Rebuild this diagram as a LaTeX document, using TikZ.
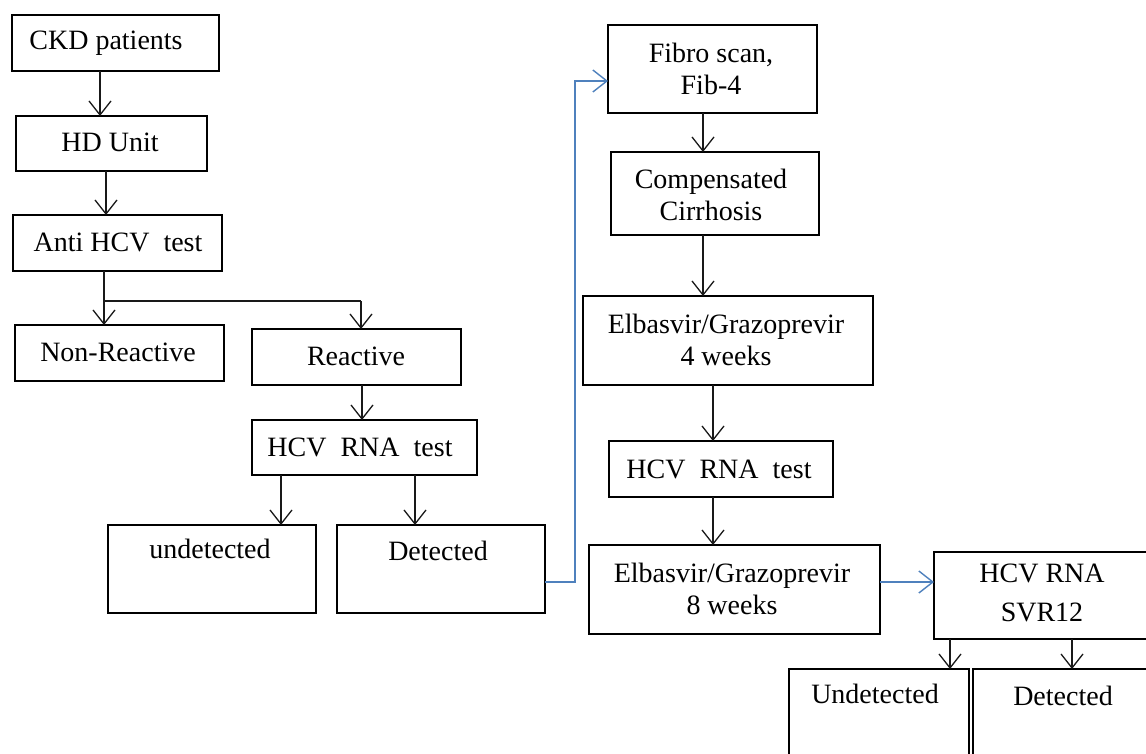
\documentclass[tikz,border=0pt]{standalone}
\usepackage{fontspec}
\setmainfont{Liberation Serif}
\usetikzlibrary{arrows.meta}
\definecolor{lnk}{RGB}{79,129,189}
\newcommand{\bx}[5]{%
  \pgfmathsetmacro{\bw}{#4-#2}\pgfmathsetmacro{\bh}{#5-#3}%
  \node[box, minimum width=\bw pt, minimum height=\bh pt] (#1) at ({(#2+#4)/2},{(#3+#5)/2}) {};}
\tikzset{
  box/.style={draw=black, line width=1.5pt, inner sep=0pt, outer sep=0pt, fill=none},
  txt/.style={inner sep=0pt, align=center, font=\fontsize{28}{32}\selectfont, text=black},
  arr/.style={draw=black!90, line width=1.3pt, -{Straight Barb[length=14pt, width=22pt, line width=1.3pt]}},
  barr/.style={draw=lnk, line width=1.4pt, -{Straight Barb[length=14pt, width=22pt, line width=1.4pt]}},
  ln/.style={draw=black!90, line width=1.3pt},
}
\begin{document}
\begin{tikzpicture}[x=1pt, y=-1pt]
\useasboundingbox (0,0) rectangle (1146,753);
\fill[white] (0,0) rectangle (1146,753);
\clip (0,0) rectangle (1146,753);
% boxes
\bx{ckd}{12}{15}{219}{71}
\bx{hd}{16}{116}{207}{171}
\bx{anti}{13}{215}{222}{271}
\bx{nonr}{15}{325}{224}{381}
\bx{react}{252}{329}{461}{385}
\bx{hcva}{252}{420}{477}{475}
\bx{undeta}{108}{525}{316}{613}
\bx{deta}{337}{525}{545}{613}
\bx{fibro}{608}{25}{817}{113}
\bx{comp}{611}{152}{819}{235}
\bx{elbf}{583}{296}{873}{385}
\bx{hcvb}{609}{441}{833}{497}
\bx{elbe}{589}{545}{880}{634}
\bx{svr}{934}{552}{1165}{639}
\bx{undetb}{789}{669}{969}{765}
\bx{detb}{973}{669}{1165}{765}
% texts
\node[txt] (tckd) at (106,43) {CKD patients};
\node[txt] (thd) at (110,142) {HD Unit};
\node[txt] (tanti) at (118,242) {Anti HCV~~test};
\node[txt] (tnonr) at (118,352) {Non-Reactive};
\node[txt] (treact) at (356,356) {Reactive};
\node[txt] (thcva) at (360,447) {HCV~~RNA~~test};
\node[txt] (tundeta) at (210,549) {undetected};
\node[txt] (tdeta) at (438,551) {Detected};
\node[txt] (tfibro) at (711,69) {Fibro scan,\\Fib-4};
\node[txt] (tcomp) at (711,195) {Compensated\\Cirrhosis};
\node[txt] (telbf) at (726,340) {Elbasvir/Grazoprevir\\4 weeks};
\node[txt] (thcvb) at (719,469) {HCV~~RNA~~test};
\node[txt] (telbe) at (732,589) {Elbasvir/Grazoprevir\\8 weeks};
\node[txt, font=\fontsize{28}{39}\selectfont] (tsvr) at (1042,593) {HCV RNA\\SVR12};
\node[txt] (tundetb) at (875,694) {Undetected};
\node[txt] (tdetb) at (1063,696) {Detected};
% connectors
\draw[arr] (ckd.south -| 100,0) -- (hd.north -| 100,0);
\draw[arr] (hd.south -| 106,0) -- (anti.north -| 106,0);
\coordinate (br) at (104,301);
\draw[arr] (anti.south -| 104,0) -- (nonr.north -| 104,0);
\draw[ln] (br) -- (br -| 361,0);
\draw[arr] (br -| 361,0) -- (react.north -| 361,0);
\draw[arr] (react.south -| 362,0) -- (hcva.north -| 362,0);
\draw[arr] (hcva.south -| 281,0) -- (undeta.north -| 281,0);
\draw[arr] (hcva.south -| 415,0) -- (deta.north -| 415,0);
\coordinate (bl) at (575,582);
\draw[barr] (deta.east |- bl) -- (bl) -- (bl |- 0,81) -- (fibro.west |- 0,81);
\draw[arr] (fibro.south -| 703,0) -- (comp.north -| 703,0);
\draw[arr] (comp.south -| 703,0) -- (elbf.north -| 703,0);
\draw[arr] (elbf.south -| 713,0) -- (hcvb.north -| 713,0);
\draw[arr] (hcvb.south -| 713,0) -- (elbe.north -| 713,0);
\draw[barr] (elbe.east |- 0,582) -- (svr.west |- 0,582);
\draw[arr] (svr.south -| 950,0) -- (undetb.north -| 950,0);
\draw[arr] (svr.south -| 1072,0) -- (detb.north -| 1072,0);
\end{tikzpicture}
\end{document}
